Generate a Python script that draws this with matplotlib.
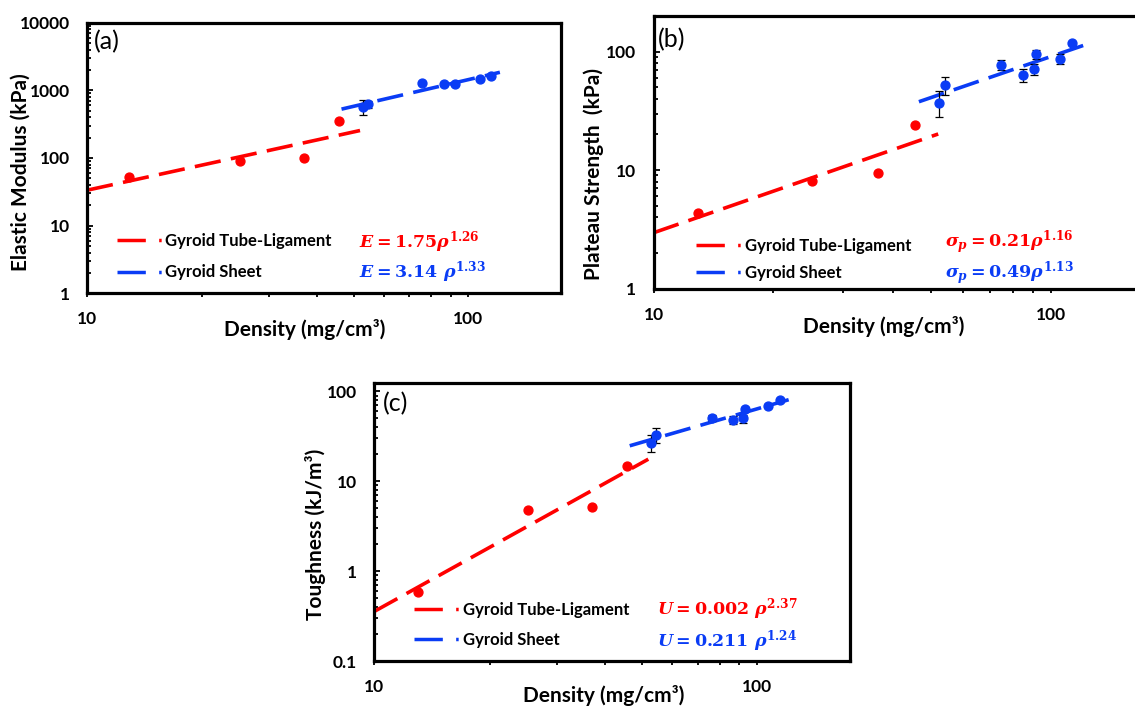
import numpy as np
import matplotlib
matplotlib.use("Agg")
import matplotlib.pyplot as plt
from matplotlib.lines import Line2D
from matplotlib.ticker import FixedLocator, FixedFormatter, LogLocator, NullFormatter

# ---------------- data ----------------
# (a) elastic modulus (kPa) vs density (mg/cm^3)
tl_density_a = [12.9, 25.2, 37.0, 45.7]
tl_modulus = [53, 91, 101, 356]
sh_density_a = [52.9, 54.7, 75.8, 86.5, 92.2, 107.2, 114.8]
sh_modulus = [574, 624, 1270, 1242, 1260, 1470, 1640]
sh_modulus_err = [140, 80, 40, 40, 40, 50, 50]

# (b) plateau strength (kPa)
tl_density_b = [12.9, 25.1, 36.7, 45.4]
tl_strength = [4.35, 8.13, 9.37, 24.0]
sh_density_b = [52.3, 54.2, 74.9, 85.1, 90.7, 91.6, 105.5, 112.9]
sh_strength = [37.1, 52.0, 77.2, 63.6, 71.0, 95.0, 86.7, 117.8]
sh_strength_err = [9, 9, 7, 8, 8, 8, 8, 4]

# (c) toughness (kJ/m^3)
tl_density_c = [13.0, 25.2, 37.1, 45.7]
tl_toughness = [0.586, 4.77, 5.19, 14.9]
sh_density_c = [52.8, 54.6, 76.1, 86.5, 91.9, 93.0, 106.9, 115.1]
sh_toughness = [27.0, 32.7, 50.6, 48.0, 50.0, 63.7, 69.3, 80.2]
sh_toughness_err = [6, 6, 4, 5, 5, 3, 3, 3]

# power-law trendline extents (density)
tl_fit_range = [10, 52]
sh_fit_range = [46.5, 121]

series_names = ["Gyroid Tube-Ligament", "Gyroid Sheet"]
eq_a = [r"$E = 1.75\rho^{1.26}$", r"$E = 3.14\ \rho^{1.33}$"]
eq_b = [r"$\sigma_p = 0.21\rho^{1.16}$", r"$\sigma_p = 0.49\rho^{1.13}$"]
eq_c = [r"$U = 0.002\ \rho^{2.37}$", r"$U = 0.211\ \rho^{1.24}$"]

x_ticks = [10, 100]
x_ticklabels = ["10", "100"]
y_ticks_a = [1, 10, 100, 1000, 10000]
y_ticklabels_a = ["1", "10", "100", "1000", "10000"]
y_ticks_b = [1, 10, 100]
y_ticklabels_b = ["1", "10", "100"]
y_ticks_c = [0.1, 1, 10, 100]
y_ticklabels_c = ["0.1", "1", "10", "100"]

# ---------------- style ----------------
RED = "#FF0000"
BLUE = "#0A3CF5"
plt.rcParams.update({
    "font.family": ["Lato", "DejaVu Sans"],
    "font.weight": "bold",
    "mathtext.fontset": "custom",
    "mathtext.rm": "DejaVu Serif:bold",
    "mathtext.it": "DejaVu Serif:italic:bold",
    "mathtext.bf": "DejaVu Serif:bold",
    "lines.scale_dashes": False,
})

W, H = 1135, 706
fig = plt.figure(figsize=(W / 100, H / 100), dpi=100)


def frame(left, top, right, bottom):
    return [left / W, 1 - bottom / H, (right - left) / W, (bottom - top) / H]


def px(x, y):
    return (x / W, 1 - y / H)


def style_axes(ax, yticks, yticklabels, ylim):
    ax.set_xscale("log")
    ax.set_yscale("log")
    ax.set_xlim(10, 175)
    ax.set_ylim(*ylim)
    ax.xaxis.set_major_locator(FixedLocator(x_ticks))
    ax.xaxis.set_major_formatter(FixedFormatter(x_ticklabels))
    ax.xaxis.set_minor_locator(LogLocator(base=10, subs=np.arange(2, 10)))
    ax.xaxis.set_minor_formatter(NullFormatter())
    ax.yaxis.set_major_locator(FixedLocator(yticks))
    ax.yaxis.set_major_formatter(FixedFormatter(yticklabels))
    ax.yaxis.set_minor_locator(LogLocator(base=10, subs=np.arange(2, 10)))
    ax.yaxis.set_minor_formatter(NullFormatter())
    for s in ax.spines.values():
        s.set_linewidth(2.3)
        s.set_color("black")
    ax.tick_params(axis="y", which="both", direction="in", width=1.3,
                   pad=12.5, labelsize=12.5)
    ax.tick_params(axis="y", which="major", length=4.5)
    ax.tick_params(axis="y", which="minor", length=3)
    ax.tick_params(axis="x", which="both", direction="out", width=1.3,
                   length=3, pad=10, labelsize=12.5)
    for lab in ax.get_xticklabels() + ax.get_yticklabels():
        lab.set_fontweight("bold")


def power_fit(x, y, span):
    slope, icpt = np.polyfit(np.log10(x), np.log10(y), 1)
    xs = np.geomspace(span[0], span[1], 60)
    return xs, 10 ** icpt * xs ** slope


def draw_panel(ax, tx, ty, sx, sy, serr):
    dash = (19, 7.5)
    xs, ys = power_fit(tx, ty, tl_fit_range)
    ax.plot(xs, ys, color=RED, lw=2.6, dashes=dash, zorder=2)
    xs, ys = power_fit(sx, sy, sh_fit_range)
    ax.plot(xs, ys, color=BLUE, lw=2.6, dashes=dash, zorder=2)
    ax.plot(tx, ty, "o", color=RED, ms=6.4, mec=RED, zorder=3)
    ax.errorbar(sx, sy, yerr=serr, fmt="o", color=BLUE, ms=6.4, mec=BLUE,
                ecolor="black", elinewidth=0.9, capsize=3, capthick=0.9,
                zorder=3)


def legend_handle(color):
    return Line2D([], [], color=color, lw=2.5, dashes=(20.4, 9.6, 1.8, 40))


def add_legend(ax, left, center, spacing):
    leg = ax.legend([legend_handle(RED), legend_handle(BLUE)], series_names,
                    loc="center left", bbox_to_anchor=px(left, center),
                    bbox_transform=fig.transFigure, frameon=False,
                    borderpad=0, borderaxespad=0, handlelength=2.7,
                    handletextpad=0.22, labelspacing=spacing,
                    prop={"family": "Lato", "weight": "bold", "size": 12})
    return leg


def add_equations(x, ys, eqs):
    fig.text(*px(x, ys[0]), eqs[0], color=RED, fontsize=12.5,
             ha="left", va="center")
    fig.text(*px(x, ys[1]), eqs[1], color=BLUE, fontsize=12.5,
             ha="left", va="center")


def axis_titles(ylab, ypos, xlab, xpos):
    fig.text(*px(*ypos), ylab, rotation=90, fontsize=15,
             fontweight="bold", ha="center", va="center")
    fig.text(*px(*xpos), xlab, fontsize=15,
             fontweight="bold", ha="center", va="center")


# ---------------- (a) ----------------
ax_a = fig.add_axes(frame(87, 22.7, 561, 293.3))
draw_panel(ax_a, tl_density_a, tl_modulus, sh_density_a, sh_modulus, sh_modulus_err)
style_axes(ax_a, y_ticks_a, y_ticklabels_a, (1, 10000))
add_legend(ax_a, 116.7, 256.5, 0.95)
add_equations(359, [242, 272], eq_a)
axis_titles("Elastic Modulus (kPa)", (21, 172.5), "Density (mg/cm³)", (305, 329))
fig.text(*px(94, 42), "(a)", fontsize=18, fontweight="normal",
         ha="left", va="center")

# ---------------- (b) ----------------
ax_b = fig.add_axes(frame(653.6, 16, 1147.7, 288.5))
draw_panel(ax_b, tl_density_b, tl_strength, sh_density_b, sh_strength, sh_strength_err)
style_axes(ax_b, y_ticks_b, y_ticklabels_b, (1, 200))
add_legend(ax_b, 696, 259.5, 0.65)
add_equations(945, [242, 273], eq_b)
axis_titles("Plateau Strength  (kPa)", (594, 174), "Density (mg/cm³)", (884, 326))
fig.text(*px(658, 40), "(b)", fontsize=18, fontweight="normal",
         ha="left", va="center")

# ---------------- (c) ----------------
ax_c = fig.add_axes(frame(374.3, 382.7, 850, 661))
draw_panel(ax_c, tl_density_c, tl_toughness, sh_density_c, sh_toughness, sh_toughness_err)
style_axes(ax_c, y_ticks_c, y_ticklabels_c, (0.1, 125))
add_legend(ax_c, 414.3, 625, 0.85)
add_equations(657, [609, 641], eq_c)
axis_titles("Toughness (kJ/m³)", (316, 534), "Density (mg/cm³)", (604, 695))
fig.text(*px(383, 404), "(c)", fontsize=18, fontweight="normal",
         ha="left", va="center")

fig.savefig("out.png", dpi=100)
